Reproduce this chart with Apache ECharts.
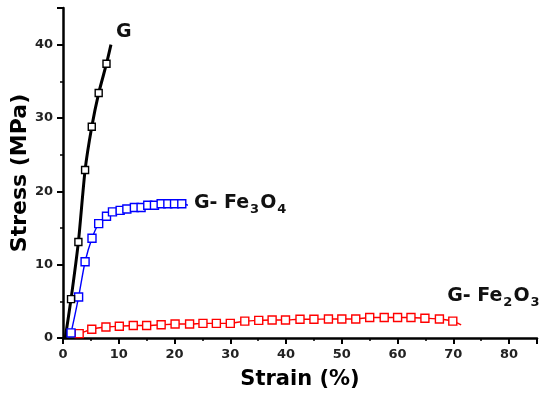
<!DOCTYPE html>
<html><head><meta charset="utf-8">
<script src="https://cdn.jsdelivr.net/npm/echarts@6/dist/echarts.min.js"></script>
<style>html,body{margin:0;padding:0;background:#fff}#c{width:550px;height:399px}</style>
</head><body><div id="c"></div>
<script>
// Strain (%) / Stress (MPa)
const gStrain   = [0.4, 1.44, 2.76, 3.96, 5.16, 6.4, 7.8, 8.6];
const gStress   = [0.0, 5.3, 13.1, 22.9, 28.8, 33.4, 37.4, 40.0];

const fe3o4Strain = [1.1, 1.44, 2.8, 3.96, 5.2, 6.4, 7.8, 8.87, 10.25, 11.45, 12.8, 14.0, 15.2, 16.4, 17.6, 18.8, 20.0, 21.3, 22.4];
const fe3o4Stress = [0.0, 0.7, 5.6, 10.4, 13.6, 15.6, 16.6, 17.2, 17.4, 17.6, 17.8, 17.8, 18.1, 18.1, 18.3, 18.3, 18.3, 18.3, 18.1];

const fe2o3Strain = [0.2, 2.9, 5.16, 7.7, 10.1, 12.6, 15.0, 17.6, 20.1, 22.7, 25.1, 27.5, 30.0, 32.6, 35.1, 37.5, 39.9, 42.5, 45.0, 47.6, 50.0, 52.5, 55.0, 57.6, 60.0, 62.4, 64.9, 67.5, 69.9, 71.4];
const fe2o3Stress = [0.3, 0.6, 1.2, 1.5, 1.6, 1.7, 1.7, 1.8, 1.9, 1.9, 2.0, 2.0, 2.0, 2.3, 2.4, 2.45, 2.45, 2.55, 2.55, 2.6, 2.6, 2.6, 2.8, 2.8, 2.8, 2.8, 2.7, 2.6, 2.3, 1.8];

const xTicks = [0, 10, 20, 30, 40, 50, 60, 70, 80];
const yTicks = [0, 10, 20, 30, 40];

const zip = (a, b) => a.map((v, i) => [v, b[i]]);
const innerSymbol = n => (val, p) => (p.dataIndex === 0 || p.dataIndex === n - 1) ? 'none' : 'rect';

const chart = echarts.init(document.getElementById('c'));
const axisFont = {fontFamily: 'DejaVu Sans', fontWeight: 'bold', fontSize: 13, color: '#222'};
const labelFont = 'DejaVu Sans';

function mkSeries(name, xs, ys, color, width, size, smooth, label) {
  return {
    name, type: 'line', data: zip(xs, ys), smooth,
    symbol: innerSymbol(xs.length), symbolSize: size,
    showAllSymbol: true,
    lineStyle: {color, width},
    itemStyle: {color: '#fff', borderColor: color, borderWidth: 1.4},
    z: 3,
    endLabel: label,
    animation: false
  };
}

const main = {fontFamily: labelFont, fontWeight: 'bold', fontSize: 19, color: '#111'};
const sub  = {fontFamily: labelFont, fontWeight: 'bold', fontSize: 13, color: '#111', padding: [13, 1, 0, 1]};

chart.setOption({
  animation: false,
  grid: {left: 63, right: 13, top: 8, bottom: 61, containLabel: false, outerBoundsMode: 'none'},
  xAxis: {
    type: 'value', min: 0, max: 85, interval: 10,
    name: 'Strain (%)', nameLocation: 'middle', nameGap: 31, nameMoveOverlap: false,
    nameTextStyle: {fontFamily: labelFont, fontWeight: 'bold', fontSize: 21, color: '#000'},
    axisLine: {lineStyle: {color: '#000', width: 2.5}},
    axisTick: {inside: false, length: 6, lineStyle: {color: '#000', width: 2}},
    minorTick: {show: true, splitNumber: 2, length: 3, lineStyle: {color: '#000', width: 1.5}},
    splitLine: {show: false},
    axisLabel: Object.assign({margin: 10, showMaxLabel: false,
      formatter: v => xTicks.includes(v) ? String(v) : ''}, axisFont)
  },
  yAxis: {
    type: 'value', min: 0, max: 45, interval: 10,
    name: 'Stress (MPa)', nameLocation: 'middle', nameGap: 32, nameMoveOverlap: false,
    nameTextStyle: {fontFamily: labelFont, fontWeight: 'bold', fontSize: 22, color: '#000'},
    axisLine: {lineStyle: {color: '#000', width: 2.5}},
    axisTick: {inside: false, length: 6, lineStyle: {color: '#000', width: 2}},
    minorTick: {show: true, splitNumber: 2, length: 3, lineStyle: {color: '#000', width: 1.5}},
    splitLine: {show: false},
    axisLabel: Object.assign({margin: 10, showMaxLabel: false,
      formatter: v => yTicks.includes(v) ? String(v) : ''}, axisFont)
  },
  series: [
    mkSeries('G-Fe2O3', fe2o3Strain, fe2o3Stress, '#ff0000', 1.4, 8, 0.2, {
      show: true, formatter: '{a|G- Fe}{s|2}{a|O}{s|3}', offset: [-14, -29],
      align: 'left', verticalAlign: 'middle', distance: 0,
      rich: {a: main, s: sub}
    }),
    mkSeries('G-Fe3O4', fe3o4Strain, fe3o4Stress, '#0000ff', 1.4, 8, 0.25, {
      show: true, formatter: '{a|G- Fe}{s|3}{a|O}{s|4}', offset: [6, -2],
      align: 'left', verticalAlign: 'middle', distance: 0,
      rich: {a: main, s: sub}
    }),
    mkSeries('G', gStrain, gStress, '#000000', 3, 7, 0.2, {
      show: true, formatter: '{a|G}', offset: [5, -13],
      align: 'left', verticalAlign: 'middle', distance: 0,
      rich: {a: main}
    })
  ]
});
</script></body></html>
